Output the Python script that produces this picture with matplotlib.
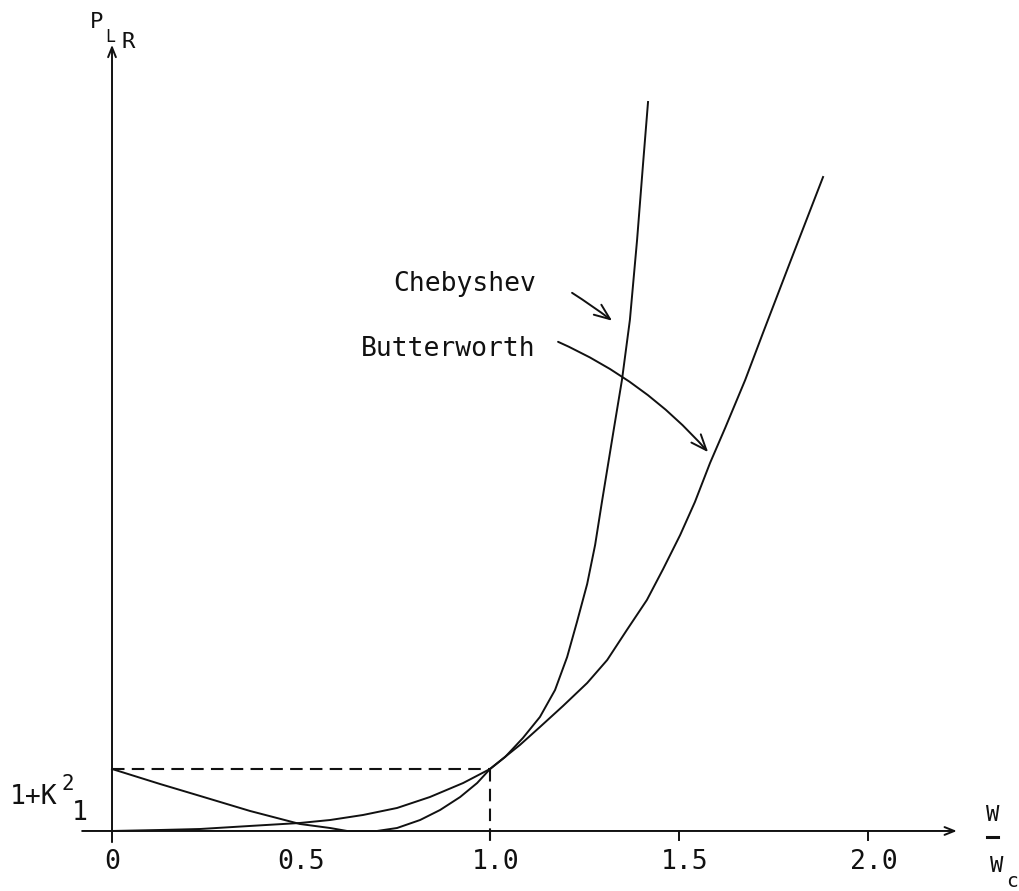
import matplotlib
matplotlib.use("Agg")
import matplotlib.pyplot as plt
from matplotlib.patches import FancyArrowPatch

plt.rcParams['font.family'] = ['DejaVu Sans Mono', 'DejaVu Sans']

# curves (x = w/wc, y = P_LR, axis crosses at P = 1, 1+K^2 = 2)
butter_x = [0.000, 0.127, 0.233, 0.365, 0.497, 0.577, 0.664, 0.754, 0.841, 0.929,
            1.000, 1.079, 1.132, 1.193, 1.257, 1.310, 1.362, 1.415, 1.458, 1.503,
            1.542, 1.582, 1.622, 1.675, 1.722, 1.794, 1.881]
butter_y = [1.000, 1.016, 1.032, 1.081, 1.129, 1.177, 1.258, 1.371, 1.548, 1.774,
            2.000, 2.387, 2.677, 3.016, 3.387, 3.758, 4.242, 4.726, 5.226, 5.774,
            6.306, 6.935, 7.500, 8.274, 9.032, 10.177, 11.548]

cheby_x = [0.000, 0.127, 0.233, 0.365, 0.497, 0.577, 0.622, 0.661, 0.701, 0.754,
           0.815, 0.868, 0.921, 0.966, 1.000, 1.040, 1.087, 1.132, 1.172, 1.204,
           1.230, 1.257, 1.278, 1.296, 1.312, 1.328, 1.349, 1.370, 1.389, 1.405,
           1.418]
cheby_y = [2.000, 1.758, 1.565, 1.323, 1.113, 1.048, 1.000, 1.000, 1.000, 1.048,
           1.177, 1.339, 1.548, 1.774, 2.000, 2.194, 2.500, 2.839, 3.274, 3.806,
           4.371, 4.984, 5.613, 6.306, 6.903, 7.500, 8.274, 9.242, 10.532, 11.774,
           12.758]

tick_pos = [0, 0.5, 1.0, 1.5, 2.0]
tick_labels = ['0', '0.5', '1.0', '1.5', '2.0']
tick_marks = [1.5, 2.0]
ripple_top = 2.0   # 1 + K^2
cutoff = 1.0

ink = '#111111'
fs = 19

fig = plt.figure(figsize=(10.2, 8.91), dpi=100)
ax = fig.add_axes([0, 0, 1, 1])
ax.set_xlim(-0.2963, 2.402)
ax.set_ylim(0.032, 14.403)
ax.axis('off')

# axes with open arrow heads
axis_arrow = dict(arrowstyle='->,head_length=0.7,head_width=0.28', lw=1.4,
                  color=ink, shrinkA=0, shrinkB=0)
ax.annotate('', xy=(2.235, 1), xytext=(-0.079, 1), arrowprops=axis_arrow)
ax.annotate('', xy=(0, 13.68), xytext=(0, 0.82), arrowprops=axis_arrow)

for t in tick_marks:
    ax.plot([t, t], [1, 0.855], color=ink, lw=1.4)

for t, lab in zip(tick_pos, tick_labels):
    ax.text(t + (0.015 if t > 0.6 else 0), 0.50, lab, ha='center', va='center',
            fontsize=fs, color=ink)

# 1+K^2 guide lines
dash = (0, (6, 3.5))
ax.plot([0, cutoff], [ripple_top, ripple_top], color=ink, lw=1.5, ls=dash)
ax.plot([cutoff, cutoff], [ripple_top, 0.74], color=ink, lw=1.5, ls=dash)

# response curves
ax.plot(butter_x, butter_y, color=ink, lw=1.4, solid_joinstyle='round')
ax.plot(cheby_x, cheby_y, color=ink, lw=1.4, solid_joinstyle='round')

# y labels
ax.text(-0.1455, 1.548, '1+K', ha='right', va='center', fontsize=fs, color=ink)
ax.text(-0.134, 1.76, '2', ha='left', va='center', fontsize=15, color=ink)
ax.text(-0.085, 1.29, '1', ha='center', va='center', fontsize=fs, color=ink)

# axis titles
ax.text(-0.040, 14.05, 'P', ha='center', va='center', fontsize=16, color=ink)
ax.text(-0.005, 13.80, 'L', ha='center', va='center', fontsize=12, color=ink)
ax.text(0.042, 13.72, 'R', ha='center', va='center', fontsize=16, color=ink)

ax.text(2.331, 1.25, 'W', ha='center', va='center', fontsize=16, color=ink)
ax.plot([2.316, 2.344], [0.90, 0.90], color=ink, lw=2.2)
ax.text(2.340, 0.44, 'W', ha='center', va='center', fontsize=16, color=ink)
ax.text(2.380, 0.19, 'c', ha='center', va='center', fontsize=14, color=ink)

# curve labels with pointer arrows
ax.text(0.743, 9.82, 'Chebyshev', ha='left', va='center', fontsize=fs, color=ink)
ax.text(1.119, 8.77, 'Butterworth', ha='right', va='center', fontsize=fs, color=ink)

ptr = '->,head_length=0.75,head_width=0.3'
ax.add_patch(FancyArrowPatch((1.217, 9.68), (1.323, 9.23), arrowstyle=ptr,
                             connectionstyle='arc3,rad=-0.02', mutation_scale=15,
                             lw=1.4, color=ink, shrinkA=0, shrinkB=0))
ax.add_patch(FancyArrowPatch((1.180, 8.89), (1.577, 7.11), arrowstyle=ptr,
                             connectionstyle='arc3,rad=-0.11', mutation_scale=15,
                             lw=1.4, color=ink, shrinkA=0, shrinkB=0))

fig.savefig('out.png', dpi=100, facecolor='white')
